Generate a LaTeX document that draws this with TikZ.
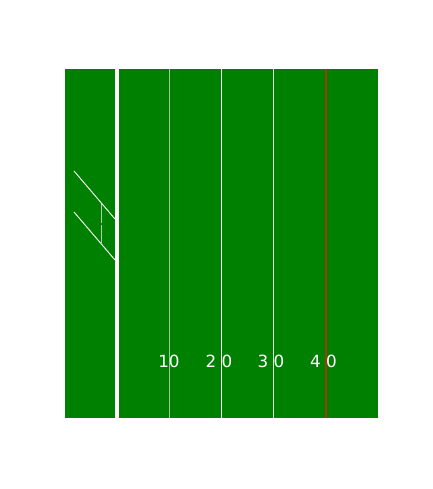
\documentclass[tikz,border=0pt]{standalone}
\usepackage{fontspec}
\setmainfont{DejaVu Sans}
\begin{document}
\begin{tikzpicture}[x=1pt,y=-1pt,
  yardline/.style={draw=white,line width=1pt},
  lbl/.style={text=white,font=\fontsize{16.8}{18}\selectfont,inner sep=0pt,anchor=base}]
\useasboundingbox (0,0) rectangle (432,489);
\fill[fill={rgb,255:red,0;green,128;blue,0}] (65,69) rectangle (378,418);
% goal line
\draw[draw=white,line width=3.2pt] (117,69) -- (117,418);
% yard lines
\coordinate (l1t) at (169,69); \coordinate (l1b) at (169,418);
\coordinate (l2t) at (221,69); \coordinate (l2b) at (221,418);
\coordinate (l3t) at (273,69); \coordinate (l3b) at (273,418);
\coordinate (l4t) at (326,69); \coordinate (l4b) at (326,418);
\draw[yardline,draw opacity=0.6] (l1t) -- (l1b);
\draw[yardline] (l2t) -- (l2b);
\draw[yardline,draw opacity=0.85] (l3t) -- (l3b);
\draw[draw={rgb,255:red,160;green,60;blue,0},line width=1.3pt] (l4t) -- (l4b);
% goal post structure
\coordinate (a1) at (74,171); \coordinate (a2) at (115,219);
\coordinate (b1) at (74,212); \coordinate (b2) at (115,260);
\coordinate (v1) at (101.5,203); \coordinate (v2) at (101.5,243);
\draw[draw=white,line width=0.9pt] (a1) -- (a2);
\draw[draw=white,line width=0.9pt] (b1) -- (b2);
\draw[draw=white,draw opacity=0.65,line width=1.8pt] (v1) -- (v2);
\fill[gray!70!black] (100.6,223) rectangle (102.4,225);
% labels
\node[lbl] (t1) at (169,367) {10};
\node[lbl] (t2) at (219,367) {2 0};
\node[lbl] (t3) at (271,367) {3 0};
\node[lbl] (t4) at (323.5,367) {4 0};
\end{tikzpicture}
\end{document}
